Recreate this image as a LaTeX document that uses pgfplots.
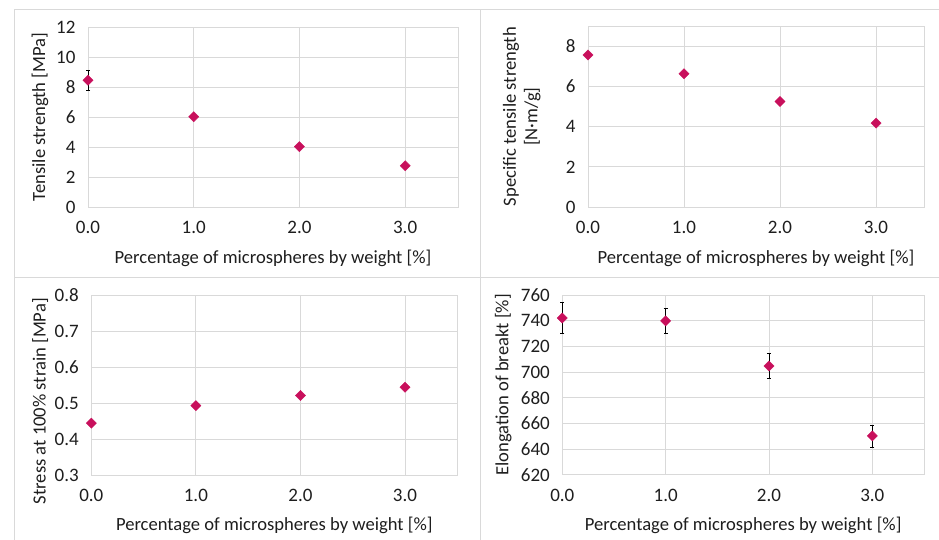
\documentclass[border=0pt]{standalone}
\usepackage{fontspec}
\setmainfont{Carlito}
\usepackage{pgfplots}
\pgfplotsset{compat=1.18}
\definecolor{mk}{RGB}{200,16,92}
\definecolor{gridc}{RGB}{217,217,217}
\definecolor{txt}{RGB}{30,30,30}
\pgfplotsset{
 panel/.style={
  scale only axis, anchor=south west,
  xmin=0, xmax=3.5, xtick={0,1,2,3}, xticklabels={0.0,1.0,2.0,3.0},
  major tick length=0pt,
  grid=major, major grid style={gridc, line width=0.8pt},
  axis line style={gridc, line width=0.8pt},
  tick label style={font=\fontsize{19}{21}\selectfont, text=txt},
  label style={font=\fontsize{18.6}{21.5}\selectfont, text=txt},
  xticklabel shift=11pt, yticklabel shift=9pt,
  xlabel={Percentage of microspheres by weight [\%]},
  /pgf/number format/assume math mode=true,
  clip=false,
 },
 pts/.style={only marks, color=mk, mark=square*, mark size=3.6pt,
   mark options={rotate=45, fill=mk, draw=mk},
   error bars/.cd, y dir=both, y explicit,
   error bar style={black, line width=0.7pt},
   error mark options={rotate=90, black, mark size=2pt, line width=0.7pt}}
}
\begin{document}
\begin{tikzpicture}
\path[use as bounding box] (0pt,0pt) rectangle (939pt,540pt);
\draw[gridc, line width=1pt] (14pt,0pt)--(14pt,530pt)--(939pt,530pt);
\draw[gridc, line width=1pt] (480pt,0pt)--(480pt,530pt);
\draw[gridc, line width=1pt] (14pt,262pt)--(939pt,262pt);

% Panel 1
\begin{axis}[panel, at={(88pt,333pt)}, width=370pt, height=180pt,
  ymin=0, ymax=12, ytick={0,2,...,12},
  ylabel={Tensile strength [MPa]},
  ylabel style={at={(axis description cs:-0.13,0.5)}, anchor=center},
  xlabel style={at={(axis description cs:0.5,-0.283)}, anchor=center}]
\addplot+[pts] coordinates {(0,8.45) +- (0,0.65) (1,6.02) +- (0,0) (2,4.02) +- (0,0) (3,2.75) +- (0,0)};
\end{axis}

% Panel 2
\begin{axis}[panel, at={(588pt,333pt)}, width=336pt, height=180.6pt,
  ymin=0, ymax=9, ytick={0,2,...,8},
  ylabel={Specific tensile strength\\{}[N·m/g]},
  ylabel style={at={(axis description cs:-0.197,0.5)}, anchor=center, align=center},
  xlabel style={at={(axis description cs:0.5,-0.283)}, anchor=center}]
\addplot+[pts] coordinates {(0,7.58) +- (0,0) (1,6.64) +- (0,0) (2,5.26) +- (0,0) (3,4.18) +- (0,0)};
\end{axis}

% Panel 3
\begin{axis}[panel, at={(91.3pt,65pt)}, width=366pt, height=180pt,
  ymin=0.3, ymax=0.8, ytick={0.3,0.4,0.5,0.6,0.7,0.8},
  yticklabels={0.3,0.4,0.5,0.6,0.7,0.8},
  ylabel={Stress at 100\% strain [MPa]},
  ylabel style={at={(axis description cs:-0.14,0.41)}, anchor=center},
  xlabel style={at={(axis description cs:0.5,-0.278)}, anchor=center}]
\addplot+[pts] coordinates {(0,0.444) +- (0,0) (1,0.4925) +- (0,0) (2,0.521) +- (0,0) (3,0.544) +- (0,0)};
\end{axis}

% Panel 4
\begin{axis}[panel, at={(562.3pt,65.3pt)}, width=361.7pt, height=179.7pt,
  ymin=620, ymax=760, ytick={620,640,...,760},
  ylabel={Elongation of breakt [\%]},
  ylabel style={at={(axis description cs:-0.163,0.5)}, anchor=center},
  xlabel style={at={(axis description cs:0.5,-0.28)}, anchor=center}]
\addplot+[pts] coordinates {(0,742.1) +- (0,12) (1,739.8) +- (0,9.8) (2,704.7) +- (0,9.7) (3,650.2) +- (0,8.6)};
\end{axis}
\end{tikzpicture}
\end{document}
